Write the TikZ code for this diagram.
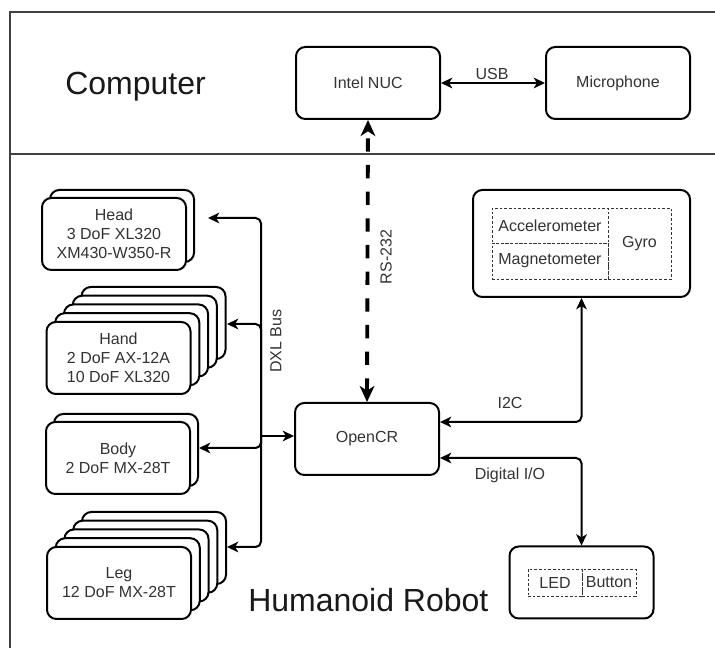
\documentclass[tikz,border=0pt]{standalone}
\usepackage{fontspec}
\setmainfont{Liberation Sans}
\usetikzlibrary{arrows.meta}
\begin{document}
\begin{tikzpicture}[x=0.75pt,y=-0.75pt,
  >={Stealth[length=8.5pt,width=8pt,inset=2.5pt]},
  txt/.style={font=\fontsize{12}{14.3}\selectfont, text=black!80, align=center},
  box/.style={draw=black, line width=1.5pt, rounded corners=7pt, fill=white,
              minimum width=108pt, minimum height=54pt, inner sep=0pt, txt},
  big/.style={font=\fontsize{24}{28}\selectfont, text=black!90, inner sep=0pt},
  frameline/.style={draw=black!75, line width=1.3pt},
  con/.style={line width=1.5pt, rounded corners=4pt},
  dbox/.style={draw=black!80, dash pattern=on 2pt off 1.5pt, line width=0.5pt,
               inner sep=0pt, txt},
]
\useasboundingbox (0,0) rectangle (715,648);
% frame
\draw[frameline] (10,648) -- (10,12) -- (715,12);
\draw[frameline] (10,154) -- (715,154);

\node[big, anchor=base west] (comp) at (65,95) {Computer};
\node[big, anchor=base west] (hr) at (248,612) {Humanoid Robot};

% top
\node[box] (nuc) at (368,83) {Intel NUC};
\node[box] (mic) at (618,83) {Microphone};
\draw[con,<->] (nuc) -- (mic);
\node[txt] (usb) at (492,74) {USB};

% OpenCR
\node[box] (ocr) at (367,439) {OpenCR};
\draw[line width=2.9pt, dash pattern=on 10pt off 10pt, {Stealth[length=12pt,width=11pt,inset=3.5pt]}-{Stealth[length=12pt,width=11pt,inset=3.5pt]}] (ocr.north) -- (nuc.south);
\node[txt, rotate=90] (rs) at (386,257) {RS-232};

% IMU
\node[box, minimum width=162.75pt, minimum height=80.25pt] (imu) at (581.5,243.5) {};
\node[dbox, minimum width=87pt, minimum height=26.25pt] (acc) at (550,225.5) {Accelerometer};
\node[dbox, minimum width=87pt, minimum height=27pt] (mag) at (550,261) {Magnetometer};
\node[dbox, minimum width=47.25pt, minimum height=53.25pt] (gyro) at (639.5,243.5) {Gyro};

% LED / Button
\node[box] (led) at (581.5,582.5) {};
\node[dbox, minimum width=40.5pt, minimum height=20.25pt] (ledt) at (555,582.5) {LED};
\node[dbox, minimum width=40.5pt, minimum height=20.25pt] (btn) at (609,582.5) {Button};

\draw[con,<->] ([yshift=12.75pt]ocr.east) -| (imu.south);
\node[txt] (i2c) at (510,403) {I2C};
\draw[con,<->] ([yshift=-14.25pt]ocr.east) -| (led.north);
\node[txt] (dio) at (510,475) {Digital I/O};

% Head stack
\node[box] (head1) at (122,226) {};
\node[box] (head0) at (114,234) {Head\\3 DoF XL320\\XM430-W350-R};
% Hand stack
\node[box] (hand4) at (153.5,323) {};
\node[box] (hand3) at (144.75,331.75) {};
\node[box] (hand2) at (136,340.5) {};
\node[box] (hand1) at (127.25,349.25) {};
\node[box] (hand0) at (118.5,358) {Hand\\2 DoF AX-12A\\10 DoF XL320};
% Body stack
\node[box] (body1) at (126,450) {};
\node[box] (body0) at (118,458) {Body\\2 DoF MX-28T};
% Leg stack
\node[box] (leg4) at (154,548) {};
\node[box] (leg3) at (145.25,556.75) {};
\node[box] (leg2) at (136.5,565.5) {};
\node[box] (leg1) at (127.75,574.25) {};
\node[box] (leg0) at (119,583) {Leg\\12 DoF MX-28T};

% DXL bus
\coordinate (bus) at (261,436);
\coordinate (headin) at (208,218);
\coordinate (handin) at (227,324);
\coordinate (bodyin) at (199,448);
\coordinate (legin) at (227,547);
\draw[con,->] (bus) -- (ocr.west |- bus);
\draw[con,->] (bus) |- (headin);
\draw[con,->] (bus) |- (handin);
\draw[con,->] (bus) |- (bodyin);
\draw[con,->] (bus) |- (legin);
\node[txt, rotate=90] (dxl) at (276,341) {DXL Bus};
\end{tikzpicture}
\end{document}
